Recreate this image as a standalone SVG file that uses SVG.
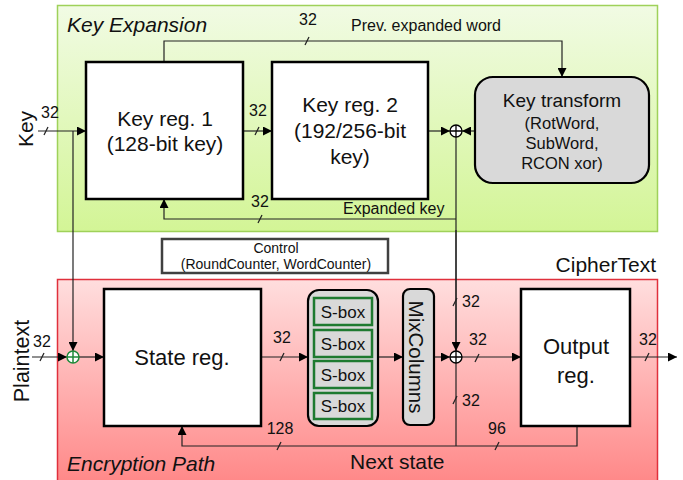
<svg xmlns="http://www.w3.org/2000/svg" width="683" height="480" viewBox="0 0 683 480">
<defs>
<linearGradient id="gGreen" x1="0" y1="0" x2="0" y2="1">
<stop offset="0" stop-color="#f1fbe4"/>
<stop offset="1" stop-color="#d3f596"/>
</linearGradient>
<linearGradient id="gRed" x1="0" y1="0" x2="0" y2="1">
<stop offset="0" stop-color="#ffdede"/>
<stop offset="1" stop-color="#ff8585"/>
</linearGradient>
<marker id="arr" viewBox="0 0 10 10" refX="10" refY="5" markerWidth="9" markerHeight="9" markerUnits="userSpaceOnUse" orient="auto">
<path d="M0,0 L10,5 L0,10 z" fill="#000"/>
</marker>
</defs>
<style>
text{font-family:"Liberation Sans",Arial,sans-serif;fill:#111}
.box{fill:#fff;stroke:#000;stroke-width:2.5}
.gray{fill:#d9d9d9;stroke:#000;stroke-width:2.2}
.sbox{fill:#d9d9d9;stroke:#1e7a30;stroke-width:2.5}
.ln{fill:none;stroke:#222;stroke-width:1.2}
.la{fill:none;stroke:#222;stroke-width:1.2;marker-end:url(#arr)}
.lbl{font-size:16px}
.big{font-size:21px}
.ttl{font-size:21px}
.xor{fill:#fff;stroke:#000;stroke-width:1.3}
</style>

<g id="key-expansion-panel">
<rect x="57.5" y="5.5" width="600" height="226" fill="url(#gGreen)" stroke="#9fd15a" stroke-width="1.5"/>
<text x="67" y="32" class="ttl" font-style="italic">Key Expansion</text>
</g>
<g id="encryption-panel">
<rect x="57.5" y="279.5" width="600" height="210" fill="url(#gRed)" stroke="#e0303c" stroke-width="1.5"/>
<text x="67" y="471" class="ttl" font-style="italic">Encryption Path</text>
</g>

<g id="connectors">
<!-- Key input -->
<line class="la" x1="38" y1="131" x2="86" y2="131"/>
<line class="ln" x1="44" y1="135" x2="48" y2="127"/>
<text x="50" y="118" class="lbl" text-anchor="middle">32</text>
<line class="la" x1="73" y1="131" x2="73" y2="351"/>
<!-- Key reg1 -> Key reg2 -->
<line class="la" x1="243" y1="131" x2="272" y2="131"/>
<line class="ln" x1="255" y1="135" x2="259" y2="127"/>
<text x="258" y="116" class="lbl" text-anchor="middle">32</text>
<!-- Prev expanded word -->
<polyline class="la" points="164,62 164,41 562,41 562,77"/>
<line class="ln" x1="305" y1="45" x2="309" y2="37"/>
<text x="308" y="25" class="lbl" text-anchor="middle">32</text>
<text x="351" y="31" class="lbl">Prev. expanded word</text>
<!-- Key reg2 -> xor, transform -> xor -->
<line class="la" x1="428" y1="131" x2="450" y2="131"/>
<line class="la" x1="475" y1="131" x2="462" y2="131"/>
<!-- Expanded key feedback -->
<polyline class="la" points="456,219 164,219 164,199"/>
<line class="ln" x1="258" y1="223" x2="262" y2="215"/>
<text x="260" y="207" class="lbl" text-anchor="middle">32</text>
<text x="343" y="214" class="lbl">Expanded key</text>
<line class="ln" x1="456" y1="137" x2="456" y2="446"/>
<line class="la" x1="456" y1="230" x2="456" y2="351"/>
<!-- Plaintext -->
<line class="la" x1="32" y1="357" x2="67" y2="357"/>
<line class="ln" x1="40" y1="361" x2="44" y2="353"/>
<text x="42" y="347" class="lbl" text-anchor="middle">32</text>
<line class="la" x1="79" y1="357" x2="104" y2="357"/>
<!-- State reg -> Sbox -->
<line class="la" x1="261" y1="357" x2="308" y2="357"/>
<line class="ln" x1="280" y1="361" x2="284" y2="353"/>
<text x="282" y="343" class="lbl" text-anchor="middle">32</text>
<line class="la" x1="378" y1="357" x2="403" y2="357"/>
<line class="la" x1="434" y1="357" x2="450" y2="357"/>
<!-- xor labels -->
<line class="ln" x1="453" y1="306" x2="457" y2="298"/>
<text x="462" y="307" class="lbl">32</text>
<line class="ln" x1="453" y1="404" x2="457" y2="396"/>
<text x="462" y="406" class="lbl">32</text>
<!-- xor -> output -->
<line class="la" x1="462" y1="357" x2="521" y2="357"/>
<line class="ln" x1="475" y1="362" x2="479" y2="354"/>
<text x="478" y="345" class="lbl" text-anchor="middle">32</text>
<!-- output out -->
<line class="la" x1="630" y1="357" x2="677" y2="357"/>
<line class="ln" x1="645" y1="361" x2="649" y2="353"/>
<text x="648" y="345" class="lbl" text-anchor="middle">32</text>
<!-- Next state -->
<polyline class="la" points="577,426 577,446 182,446 182,426"/>
<line class="ln" x1="495" y1="450" x2="499" y2="442"/>
<text x="497" y="434" class="lbl" text-anchor="middle">96</text>
<line class="ln" x1="277" y1="450" x2="281" y2="442"/>
<text x="280" y="434" class="lbl" text-anchor="middle">128</text>
<text x="350" y="469" class="ttl">Next state</text>
</g>

<g id="key-label"><text transform="translate(33,129) rotate(-90)" class="big" text-anchor="middle">Key</text></g>
<g id="plaintext-label"><text transform="translate(29,361) rotate(-90)" font-size="21.5" text-anchor="middle">Plaintext</text></g>
<g id="ciphertext-label"><text x="656" y="272" class="ttl" text-anchor="end">CipherText</text></g>

<g id="key-reg-1">
<rect class="box" x="86" y="62" width="157" height="137"/>
<text x="165" y="126" class="big" text-anchor="middle">Key reg. 1</text>
<text x="165" y="151" class="big" text-anchor="middle">(128-bit key)</text>
</g>
<g id="key-reg-2">
<rect class="box" x="272" y="62" width="156" height="137"/>
<text x="350" y="112" class="big" text-anchor="middle">Key reg. 2</text>
<text x="350" y="138" class="big" text-anchor="middle">(192/256-bit</text>
<text x="350" y="164" class="big" text-anchor="middle">key)</text>
</g>
<g id="key-transform">
<rect class="gray" x="475" y="77" width="174" height="106" rx="18"/>
<text x="562" y="107" font-size="19" text-anchor="middle">Key transform</text>
<text x="562" y="129" font-size="16.5" text-anchor="middle">(RotWord,</text>
<text x="562" y="149" font-size="16.5" text-anchor="middle">SubWord,</text>
<text x="562" y="169" font-size="16.5" text-anchor="middle">RCON xor)</text>
</g>
<g id="xor-key">
<circle class="xor" cx="456" cy="131" r="6"/>
<path d="M450,131 H462 M456,125 V137" stroke="#000" stroke-width="1.3"/>
</g>
<g id="control">
<rect x="162" y="239" width="226" height="34" fill="#fff" stroke="#404040" stroke-width="2.5"/>
<text x="276" y="253" font-size="14" text-anchor="middle">Control</text>
<text x="276" y="269" font-size="14" text-anchor="middle">(RoundCounter, WordCounter)</text>
</g>
<g id="xor-plain">
<circle cx="73" cy="357" r="6" fill="#fff" stroke="#1e8a3a" stroke-width="1.5"/>
<path d="M67,357 H79 M73,351 V363" stroke="#1e8a3a" stroke-width="1.5"/>
</g>
<g id="state-reg">
<rect class="box" x="104" y="289" width="157" height="137"/>
<text x="182" y="365" font-size="22" text-anchor="middle">State reg.</text>
</g>
<g id="sbox-group">
<rect class="gray" x="308" y="290" width="70" height="136" rx="11"/>
<rect class="sbox" x="314" y="298" width="58" height="27"/>
<text x="343" y="318" font-size="17" text-anchor="middle">S-box</text>
<rect class="sbox" x="314" y="330" width="58" height="27"/>
<text x="343" y="350" font-size="17" text-anchor="middle">S-box</text>
<rect class="sbox" x="314" y="361" width="58" height="27"/>
<text x="343" y="381" font-size="17" text-anchor="middle">S-box</text>
<rect class="sbox" x="314" y="393" width="58" height="26"/>
<text x="343" y="412" font-size="17" text-anchor="middle">S-box</text>
</g>
<g id="mixcolumns">
<rect class="gray" x="403" y="289" width="31" height="136" rx="7"/>
<text transform="translate(409,357) rotate(90)" font-size="20.5" text-anchor="middle">MixColumns</text>
</g>
<g id="xor-state">
<circle class="xor" cx="456" cy="357" r="6"/>
<path d="M450,357 H462 M456,351 V363" stroke="#000" stroke-width="1.3"/>
</g>
<g id="output-reg">
<rect class="box" x="521" y="289" width="109" height="137"/>
<text x="576" y="354" font-size="22" text-anchor="middle">Output</text>
<text x="576" y="383" font-size="22" text-anchor="middle">reg.</text>
</g>
</svg>
